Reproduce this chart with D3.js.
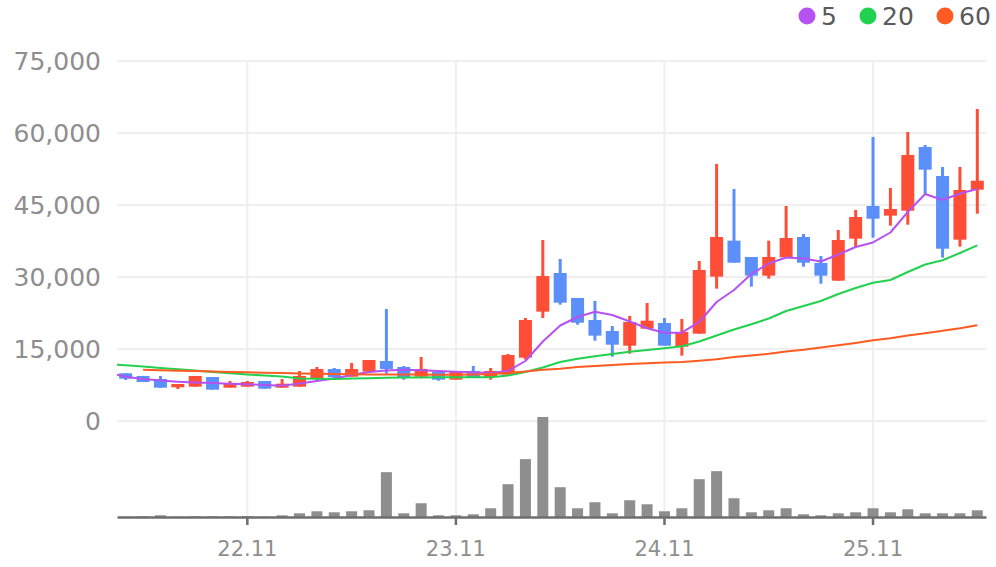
<!DOCTYPE html>
<html>
<head>
<meta charset="utf-8">
<script src="https://cdn.jsdelivr.net/npm/d3@7"></script>
<style>
    body { margin: 0; background: #fff; }
    svg { display: block; font-family: "DejaVu Sans", sans-serif; }
</style>
</head>
<body>
<div id="wrapper"></div>
<script>
// monthly candles, 22.04 .. 26.05
const months = ["22.04","22.05","22.06","22.07","22.08","22.09","22.10","22.11","22.12",
    "23.01","23.02","23.03","23.04","23.05","23.06","23.07","23.08","23.09","23.10","23.11","23.12",
    "24.01","24.02","24.03","24.04","24.05","24.06","24.07","24.08","24.09","24.10","24.11","24.12",
    "25.01","25.02","25.03","25.04","25.05","25.06","25.07","25.08","25.09","25.10","25.11","25.12",
    "26.01","26.02","26.03","26.04","26.05"]
const tickLabels = ["22.11", "23.11", "24.11", "25.11"]
const priceTicks = [0, 15000, 30000, 45000, 60000, 75000]

const opens = [9940, 9380, 8750, 7020, 7150, 9170, 6940, 7150, 8330, 6940,
    7150, 8810, 10830, 9230, 10280, 12500, 11250, 9230, 10280, 8610,
    10420, 9170, 9650, 13190, 22780, 30830, 25630, 21040, 18750, 15690,
    19230, 20420, 15480, 18190, 30070, 37570, 34170, 30280, 34100, 38330,
    32920, 29230, 37990, 44790, 42780, 43810, 57080, 51040, 37780, 48190]
const highs = [9950, 9400, 9380, 7710, 9380, 9170, 8330, 8330, 8330, 8750,
    10420, 11250, 11040, 12080, 12710, 23330, 11460, 13330, 10280, 10280,
    11460, 11040, 13960, 21460, 37710, 33750, 25630, 25000, 19790, 21880,
    24580, 21460, 21250, 33330, 53540, 48330, 34170, 37570, 44790, 38960,
    34380, 39790, 43960, 59170, 48540, 60210, 57500, 52920, 52920, 65000]
const lows = [8540, 8100, 6940, 6670, 7150, 6530, 6940, 7150, 6730, 6940,
    7150, 8400, 8680, 9230, 10280, 9860, 8610, 9230, 8400, 8610,
    9170, 8610, 9650, 12780, 21460, 24240, 20070, 16730, 13400, 14030,
    19230, 15690, 13610, 18190, 27570, 32980, 27990, 29650, 34100, 32150,
    28600, 29230, 36320, 38190, 40690, 40900, 47220, 34030, 36320, 43190]
const closes = [8810, 8130, 6940, 7710, 9380, 6530, 7770, 8125, 6730, 7770,
    9380, 10830, 9100, 10830, 12710, 10830, 9030, 10830, 8610, 10280,
    9170, 10420, 13750, 21040, 30210, 24650, 20480, 17780, 15900, 20630,
    20900, 15690, 18540, 31460, 38330, 32980, 30280, 34170, 38130, 32980,
    30280, 37710, 42500, 42150, 44170, 55420, 52360, 35900, 48130, 50060]
const volumes = [0.3, 0.7, 1.7, 0.3, 0.7, 0.7, 0.7, 0.7, 0.3, 1.7,
    3.7, 5.7, 4.7, 5.7, 6.7, 44.7, 3.7, 13.7, 1.7, 1.7,
    2.7, 8.7, 32.7, 57.7, 99.7, 29.7, 8.7, 14.7, 3.7, 16.7,
    12.7, 5.7, 8.7, 37.7, 45.7, 18.7, 4.7, 6.7, 8.7, 2.7,
    1.7, 3.7, 4.7, 8.7, 4.7, 7.7, 3.7, 3.7, 3.7, 6.7]

// moving averages, first value belongs to the month before the first candle (22.03)
const ma5 = [10050, 9230, 8750, 8440, 8190, 8020, 7920, 7770, 7650, 7500, 7350,
    7830, 8330, 8850, 9580, 10210, 10520, 10690, 10560, 10420, 10270,
    10150, 10000, 10420, 12500, 16560, 19900, 21670, 22770, 22080, 20730,
    19330, 18400, 18400, 20630, 24790, 27290, 30630, 32810, 34060, 33850,
    33230, 34690, 36250, 37190, 39270, 43540, 47290, 46040, 47400, 48330]
const ma20 = [11850, 11600, 11330, 11040, 10770, 10500, 10230, 9960, 9690, 9480, 9270,
    8850, 8790, 8750, 8830, 8920, 9020, 9060, 9080, 9100, 9100,
    9100, 9130, 9460, 10210, 11150, 12290, 12960, 13500, 13960, 14420,
    14790, 15150, 15560, 16560, 17810, 19060, 20150, 21350, 22920, 23960,
    25000, 26460, 27710, 28790, 29370, 31040, 32600, 33480, 35000, 36600]
const ma60 = [null, null, 10690, 10580, 10480, 10400, 10310, 10230, 10150, 10060, 9980,
    9900, 9830, 9770, 9730, 9710, 9710, 9690, 9670, 9650, 9650,
    9690, 9790, 10000, 10310, 10670, 10870, 11250, 11460, 11670, 11870,
    12040, 12190, 12310, 12540, 12850, 13330, 13650, 14020, 14480, 14850,
    15310, 15770, 16250, 16810, 17230, 17810, 18270, 18790, 19310, 19940]

const maSeries = [
    { name: "5", values: ma5, color: "#b452f2" },
    { name: "20", values: ma20, color: "#22d14f" },
    { name: "60", values: ma60, color: "#ff5b22" },
]

async function drawCandleChart() {
    const upColor = "#ff4d36"
    const downColor = "#5b8ffa"

    let dimensions = {
        width: 996,
        height: 567,
        margin: {
            top: 61,
            right: 10,
            bottom: 50,
            left: 117,
        },
        priceBottom: 360,
    }
    dimensions.boundedWidth = dimensions.width - dimensions.margin.left - dimensions.margin.right
    dimensions.boundedHeight = dimensions.height - dimensions.margin.top - dimensions.margin.bottom

    const wrapper = d3.select("#wrapper")
        .append("svg")
        .attr("width", dimensions.width)
        .attr("height", dimensions.height)

    const bounds = wrapper.append("g")
        .attr("transform", `translate(${dimensions.margin.left}, ${dimensions.margin.top})`)

    const data = months.map((m, i) => ({
        month: m, open: opens[i], high: highs[i], low: lows[i], close: closes[i], volume: volumes[i]
    }))

    const xScale = d3.scaleBand()
        .domain(months)
        .range([0, dimensions.boundedWidth])
        .paddingInner(0)
    const step = xScale.bandwidth()
    const xCenter = m => xScale(m) + step / 2
    // MA points are indexed with a leading month, so shift by one step
    const xIndex = d3.scaleLinear()
        .domain([1, months.length])
        .range([xCenter(months[0]), xCenter(months[months.length - 1])])

    const yScale = d3.scaleLinear()
        .domain([0, 75000])
        .range([dimensions.priceBottom, 0])

    const volScale = d3.scaleLinear()
        .domain([0, d3.max(volumes)])
        .range([dimensions.boundedHeight, dimensions.priceBottom - 4])

    // grid
    bounds.append("g")
        .selectAll("line")
        .data(priceTicks)
        .join("line")
            .attr("x1", 0)
            .attr("x2", dimensions.boundedWidth)
            .attr("y1", d => yScale(d))
            .attr("y2", d => yScale(d))
            .attr("stroke", "#efefef")
            .attr("stroke-width", 2)

    bounds.append("g")
        .selectAll("line")
        .data(tickLabels)
        .join("line")
            .attr("x1", d => xCenter(d))
            .attr("x2", d => xCenter(d))
            .attr("y1", 0)
            .attr("y2", dimensions.boundedHeight)
            .attr("stroke", "#efefef")
            .attr("stroke-width", 2)

    // y labels
    const yAxis = bounds.append("g")
        .call(d3.axisLeft(yScale).tickValues(priceTicks).tickFormat(d3.format(",")).tickSize(0).tickPadding(16))
    yAxis.select(".domain").remove()
    yAxis.selectAll("text")
        .attr("fill", "#8e8e8e")
        .style("font-size", "25px")
        .style("font-family", "DejaVu Sans, sans-serif")

    // volume bars
    bounds.append("g")
        .selectAll("rect")
        .data(data)
        .join("rect")
            .attr("x", d => xCenter(d.month) - 5.5)
            .attr("width", 11)
            .attr("y", d => volScale(d.volume))
            .attr("height", d => dimensions.boundedHeight - volScale(d.volume))
            .attr("fill", "#8e8e8e")

    // x axis
    const xAxis = bounds.append("g")
        .attr("transform", `translate(0, ${dimensions.boundedHeight})`)
        .call(d3.axisBottom(xScale).tickValues(tickLabels).tickSizeInner(8).tickSizeOuter(0).tickPadding(16))
    xAxis.select(".domain").attr("stroke", "#6e6e6e").attr("stroke-width", 2.5)
    xAxis.selectAll(".tick line").attr("stroke", "#6e6e6e").attr("stroke-width", 2.5)
    xAxis.selectAll("text")
        .attr("fill", "#8e8e8e")
        .style("font-size", "21px")
        .style("font-family", "DejaVu Sans, sans-serif")

    // candles
    const candles = bounds.append("g")
        .selectAll("g")
        .data(data)
        .join("g")
    candles.append("line")
        .attr("x1", d => xCenter(d.month))
        .attr("x2", d => xCenter(d.month))
        .attr("y1", d => yScale(d.high))
        .attr("y2", d => yScale(d.low))
        .attr("stroke", d => d.close >= d.open ? upColor : downColor)
        .attr("stroke-width", 3)
    candles.append("rect")
        .attr("x", d => xCenter(d.month) - 6.5)
        .attr("width", 13)
        .attr("y", d => yScale(Math.max(d.open, d.close)))
        .attr("height", d => Math.max(1, Math.abs(yScale(d.open) - yScale(d.close))))
        .attr("fill", d => d.close >= d.open ? upColor : downColor)

    // moving average lines
    bounds.append("clipPath")
        .attr("id", "plot-clip")
        .append("rect")
        .attr("width", dimensions.boundedWidth)
        .attr("height", dimensions.priceBottom)

    const lineGenerator = d3.line()
        .defined(d => d != null)
        .x((d, i) => xIndex(i))
        .y(d => yScale(d))

    bounds.append("g")
        .attr("clip-path", "url(#plot-clip)")
        .selectAll("path")
        .data(maSeries)
        .join("path")
            .attr("d", d => lineGenerator(d.values))
            .attr("fill", "none")
            .attr("stroke", d => d.color)
            .attr("stroke-width", 2)
            .attr("stroke-linejoin", "round")

    // legend
    const legendX = [807, 868, 945]
    const legend = wrapper.append("g")
        .selectAll("g")
        .data(maSeries)
        .join("g")
            .attr("transform", (d, i) => `translate(${legendX[i]}, 16)`)
    legend.append("circle")
        .attr("r", 8.5)
        .attr("fill", d => d.color)
    legend.append("text")
        .attr("x", 14)
        .attr("dy", "0.35em")
        .attr("fill", "#5a5a5a")
        .style("font-size", "25px")
        .text(d => d.name)
}

drawCandleChart()
</script>
</body>
</html>
